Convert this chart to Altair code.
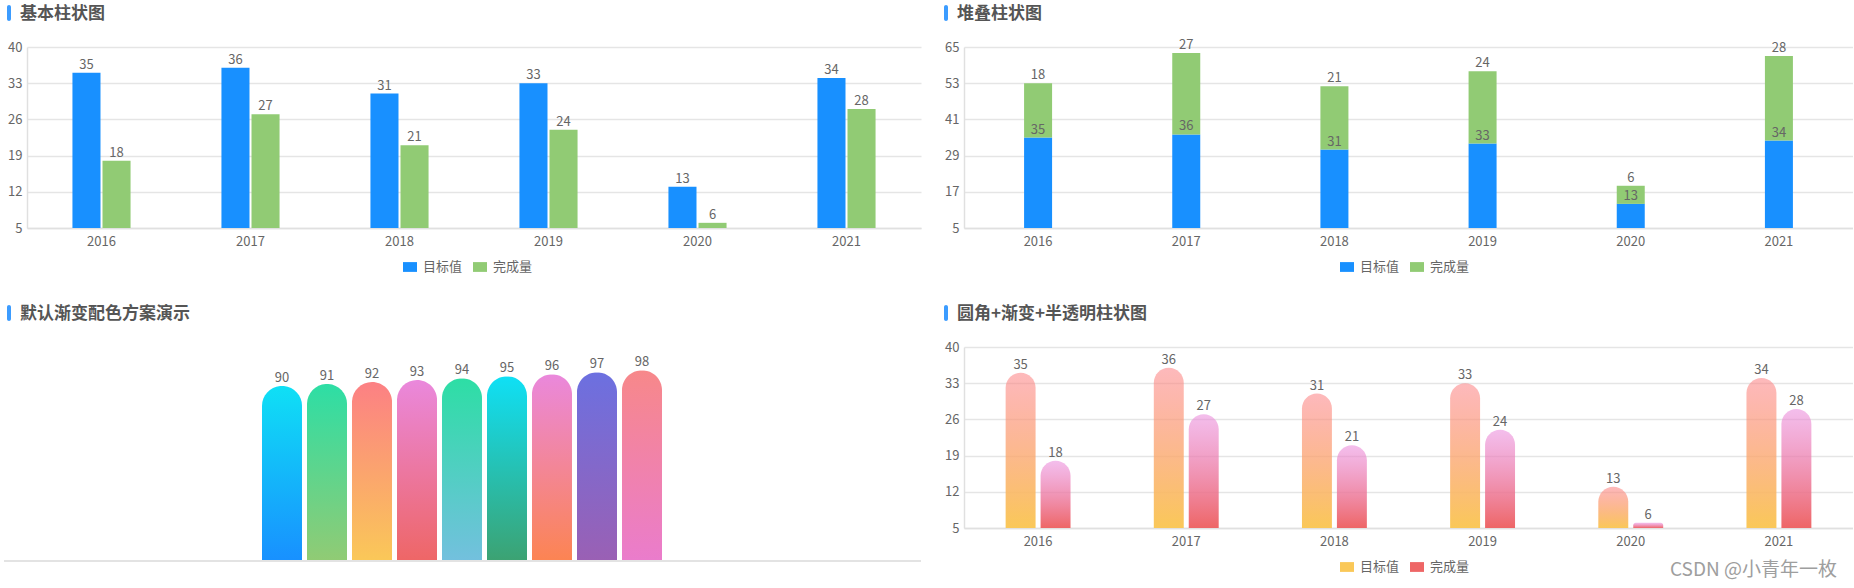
import altair as alt
import pandas as pd

# ---------------- data ----------------
years = ["2016", "2017", "2018", "2019", "2020", "2021"]
target = [35, 36, 31, 33, 13, 34]
done = [18, 27, 21, 24, 6, 28]
series_names = ["目标值", "完成量"]

ticks_basic = [5, 12, 19, 26, 33, 40]
ticks_stack = [5, 17, 29, 41, 53, 65]

demo_values = [90, 91, 92, 93, 94, 95, 96, 97, 98]
demo_top = ["#0FE0F5", "#2DDEA5", "#FC8084", "#EA88DC", "#2DDEA5",
            "#0FE0F5", "#EA88DC", "#6C70E0", "#F7888A"]
demo_bottom = ["#1890FF", "#91CB74", "#FAC858", "#EE6666", "#73C0DE",
               "#3CA272", "#FC8452", "#9A60B4", "#EA7CCC"]

titles = ["基本柱状图", "堆叠柱状图", "默认渐变配色方案演示", "圆角+渐变+半透明柱状图"]
watermark = "CSDN @小青年一枚"

# ---------------- style ----------------
FONT = "Noto Sans CJK SC"
LABEL_COLOR = "#666666"
GRID_COLOR = "#e5e5e5"
TITLE_COLOR = "#555555"
ACCENT = "#3C9CFF"
W_LEFT, W_RIGHT, H_STD, H_DEMO = 894, 889, 181, 214

n = len(years)
long_df = pd.DataFrame({
    "year": years + years,
    "series": [series_names[0]] * n + [series_names[1]] * n,
    "value": target + done,
})
stack_df = pd.DataFrame({
    "year": years + years,
    "series": [series_names[0]] * n + [series_names[1]] * n,
    "value": target + done,
    "start": [0] * n + target,
    "end": target + [a + b for a, b in zip(target, done)],
})
demo_df = pd.DataFrame({"idx": list(range(len(demo_values))), "value": demo_values})


def header(text):
    df = pd.DataFrame({"t": [text]})
    bar = alt.Chart(df).mark_rect(color=ACCENT, cornerRadius=2).encode(
        x=alt.value(-20), x2=alt.value(-16), y=alt.value(-42), y2=alt.value(-26))
    lab = alt.Chart(df).mark_text(align="left", baseline="middle", font=FONT, fontSize=17,
                                  fontWeight="bold", color=TITLE_COLOR).encode(
        x=alt.value(-7), y=alt.value(-33), text="t:N")
    return [bar, lab]


def legend(x, y):
    return alt.Legend(orient="none", legendX=x, legendY=y, direction="horizontal", title=None,
                      symbolType="M-1,-0.7H1V0.7H-1Z", symbolSize=196, symbolStrokeWidth=0,
                      symbolOpacity=1, labelFont=FONT, labelFontSize=13, labelColor=LABEL_COLOR,
                      labelOffset=6, columnPadding=10)


def grad(top, bottom):
    return alt.Gradient(gradient="linear", x1=0, x2=0, y1=0, y2=1,
                        stops=[alt.GradientStop(color=top, offset=0),
                               alt.GradientStop(color=bottom, offset=1)])


def label_layer(df, x, y, xo=None):
    enc = dict(x=x, y=y, text="value:Q")
    if xo is not None:
        enc["xOffset"] = xo
    return alt.Chart(df).mark_text(baseline="alphabetic", dy=-4, font=FONT, fontSize=13,
                                   color=LABEL_COLOR).encode(**enc)


# ---------------- panel 1: basic ----------------
x1 = alt.X("year:N", sort=years, scale=alt.Scale(paddingInner=0.61, paddingOuter=0.305),
           axis=alt.Axis(title=None, labelAngle=0))
xo1 = alt.XOffset("series:N", sort=series_names,
                  scale=alt.Scale(domain=series_names, paddingInner=0.0667, paddingOuter=0))
y1 = alt.Y("value:Q", scale=alt.Scale(domain=[ticks_basic[0], ticks_basic[-1]], nice=False, zero=False),
           axis=alt.Axis(values=ticks_basic, title=None))
bars1 = alt.Chart(long_df).mark_bar().encode(
    x=x1, xOffset=xo1, y=y1, y2=alt.datum(ticks_basic[0]),
    color=alt.Color("series:N", sort=series_names,
                    scale=alt.Scale(domain=series_names, range=["#1890FF", "#91CB74"]),
                    legend=legend(376, 213)))
p1 = alt.layer(*header(titles[0]), bars1, label_layer(long_df, x1, y1, xo1)).properties(
    width=W_LEFT, height=H_STD)

# ---------------- panel 2: stacked ----------------
x2 = alt.X("year:N", sort=years, scale=alt.Scale(paddingInner=0.811, paddingOuter=0.4055),
           axis=alt.Axis(title=None, labelAngle=0))
y2s = alt.Y("end:Q", scale=alt.Scale(domain=[ticks_stack[0], ticks_stack[-1]], nice=False, zero=False),
            axis=alt.Axis(values=ticks_stack, title=None))
bars2 = alt.Chart(stack_df).mark_bar(clip=True).encode(
    x=x2, y=y2s, y2="start:Q",
    color=alt.Color("series:N", sort=series_names,
                    scale=alt.Scale(domain=series_names, range=["#1890FF", "#91CB74"]),
                    legend=legend(376, 213)))
labels2 = alt.Chart(stack_df).mark_text(baseline="alphabetic", dy=-4, font=FONT, fontSize=13,
                                        color=LABEL_COLOR).encode(x=x2, y=y2s, text="value:Q")
p2 = alt.layer(*header(titles[1]), bars2, labels2).properties(width=W_RIGHT, height=H_STD)

# ---------------- panel 3: gradient demo ----------------
x3 = alt.X("idx:O", scale=alt.Scale(domain=list(range(len(demo_values))), range=[235, 635],
                                    paddingInner=0.11, paddingOuter=0), axis=None)
y3 = alt.Y("value:Q", scale=alt.Scale(domain=[0, 110], nice=False), axis=None)
base_line = alt.Chart(pd.DataFrame({"value": [0]})).mark_rule(color="#e3e3e3", strokeWidth=2).encode(
    x=alt.value(-23), x2=alt.value(W_LEFT), y=y3)
demo_layers = []
for i, (top, bottom) in enumerate(zip(demo_top, demo_bottom)):
    demo_layers.append(
        alt.Chart(demo_df).transform_filter(alt.datum.idx == i).mark_bar(
            color=grad(top, bottom), cornerRadiusTopLeft=20, cornerRadiusTopRight=20
        ).encode(x=x3, y=y3))
p3 = alt.layer(*header(titles[2]), *demo_layers, base_line, label_layer(demo_df, x3, y3)).properties(
    width=W_LEFT, height=H_DEMO)

# ---------------- panel 4: rounded + gradient + translucent ----------------
x4 = alt.X("year:N", sort=years, scale=alt.Scale(paddingInner=0.562, paddingOuter=0.281),
           axis=alt.Axis(title=None, labelAngle=0))
xo4 = alt.XOffset("series:N", sort=series_names,
                  scale=alt.Scale(domain=series_names, paddingInner=0.143, paddingOuter=0))
y4 = alt.Y("value:Q", scale=alt.Scale(domain=[ticks_basic[0], ticks_basic[-1]], nice=False, zero=False),
           axis=alt.Axis(values=ticks_basic, title=None))
grads4 = [grad("rgba(252,128,132,0.55)", "rgba(250,200,88,1)"),
          grad("rgba(234,136,220,0.55)", "rgba(238,102,102,1)")]
bars4 = []
for s, g in zip(series_names, grads4):
    bars4.append(
        alt.Chart(long_df).transform_filter(alt.datum.series == s).mark_bar(
            color=g, cornerRadiusTopLeft=15, cornerRadiusTopRight=15
        ).encode(x=x4, xOffset=xo4, y=y4, y2=alt.datum(ticks_basic[0])))
legend4 = alt.Chart(long_df).mark_square(opacity=0, size=1).encode(
    x=x4, xOffset=xo4, y=y4,
    color=alt.Color("series:N", sort=series_names,
                    scale=alt.Scale(domain=series_names, range=["#FAC858", "#EE6666"]),
                    legend=legend(376, 213)))
wm = alt.Chart(pd.DataFrame({"t": [watermark]})).mark_text(
    align="right", baseline="middle", font=FONT, fontSize=19, color="#9e9e9e").encode(
    x=alt.value(873), y=alt.value(223), text="t:N")
p4 = alt.layer(*header(titles[3]), *bars4, legend4, label_layer(long_df, x4, y4, xo4), wm).properties(
    width=W_RIGHT, height=H_STD)

chart = alt.concat(
    p1, p2, p3, p4, columns=2, spacing={"row": 119, "column": 43}, bounds="flush"
).resolve_scale(
    x="independent", y="independent", color="independent", xOffset="independent"
).resolve_legend(color="independent").properties(
    padding={"left": 3, "top": 5, "right": 0, "bottom": 0}
).configure_view(stroke=None).configure_axis(
    labelFont=FONT, labelFontSize=13, labelColor=LABEL_COLOR, domainColor="#e0e0e0",
    domainWidth=1.5, gridColor=GRID_COLOR, gridWidth=1.5, ticks=False, tickSize=0
).configure_axisX(labelPadding=7).configure_axisY(labelPadding=5, labelFlush=False,
                                                  labelOverlap=False)

chart.save("out.html", embed_options={"renderer": "svg", "actions": False})
